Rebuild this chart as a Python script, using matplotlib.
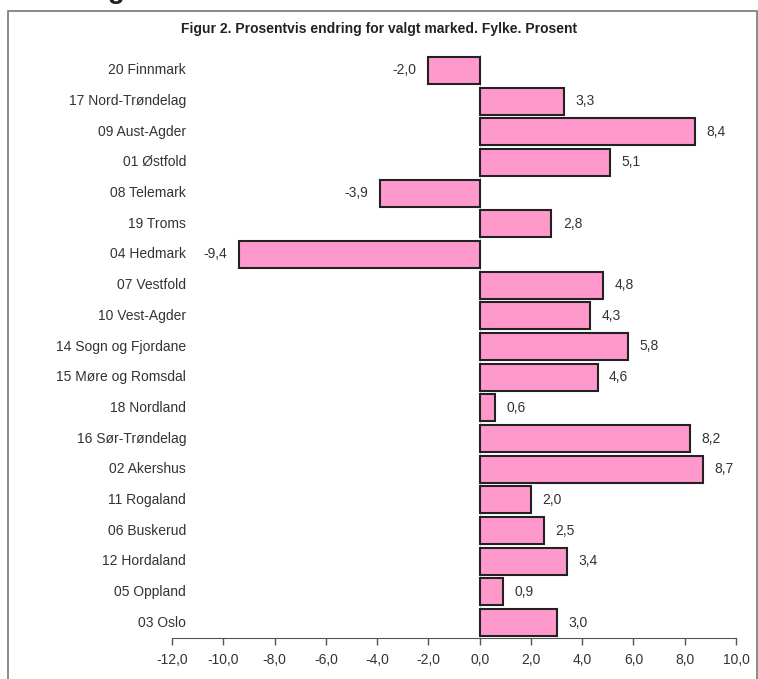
import matplotlib.pyplot as plt
from matplotlib.patches import Rectangle
from matplotlib.transforms import blended_transform_factory

plt.rcParams['font.family'] = ['Liberation Sans', 'DejaVu Sans']

fylker = ["20 Finnmark", "17 Nord-Trøndelag", "09 Aust-Agder", "01 Østfold",
          "08 Telemark", "19 Troms", "04 Hedmark", "07 Vestfold", "10 Vest-Agder",
          "14 Sogn og Fjordane", "15 Møre og Romsdal", "18 Nordland",
          "16 Sør-Trøndelag", "02 Akershus", "11 Rogaland", "06 Buskerud",
          "12 Hordaland", "05 Oppland", "03 Oslo"]
endring = [-2.0, 3.3, 8.4, 5.1, -3.9, 2.8, -9.4, 4.8, 4.3, 5.8, 4.6, 0.6,
           8.2, 8.7, 2.0, 2.5, 3.4, 0.9, 3.0]
x_ticks = [-12, -10, -8, -6, -4, -2, 0, 2, 4, 6, 8, 10]


def komma(v):
    return "{:.1f}".format(v).replace(".", ",")


fig = plt.figure(figsize=(7.58, 6.79), dpi=100)

# frame around the chart (document crop)
fig.patches.append(Rectangle((8 / 758, -0.05), 749 / 758, 1.05 - 11 / 679,
                             transform=fig.transFigure, fill=False,
                             edgecolor='#777777', linewidth=1.2))
# heading of the page above, only its descenders are inside the crop
fig.text(125 / 758, 1 + 2 / 679, "Endring", fontsize=20, fontweight='bold',
         ha='right', va='baseline', color='#222222')
fig.text(0.5, 1 - 29 / 679, "Figur 2. Prosentvis endring for valgt marked. Fylke. Prosent",
         fontsize=10, fontweight='bold', ha='center', va='center', color='#222222')

ax = fig.add_axes([172 / 758, 1 - 638 / 679, (736 - 172) / 758, (638 - 55) / 679])
pos = list(range(len(fylker)))[::-1]
ax.barh(pos, endring, height=0.88, color='#ff99cc', edgecolor='#222222', linewidth=1.5)

ax.set_xlim(-12, 10)
ax.set_ylim(-0.5, len(fylker) - 0.5)
ax.set_xticks(x_ticks)
ax.set_xticklabels([komma(t) for t in x_ticks], fontsize=10, color='#333333')
ax.tick_params(axis='x', direction='out', length=5, width=1, color='#555555', pad=6)
ax.set_yticks([])
for s in ['top', 'right', 'left']:
    ax.spines[s].set_visible(False)
ax.spines['bottom'].set_color('#555555')
ax.axvline(0, color='#cccccc', linewidth=0.8, zorder=0)

trans = blended_transform_factory(ax.transAxes, ax.transData)
for p, navn, v in zip(pos, fylker, endring):
    ax.text(0.025, p, navn, transform=trans, ha='right', va='center',
            fontsize=10, color='#333333')
    if v >= 0:
        ax.text(v + 0.45, p, komma(v), ha='left', va='center', fontsize=10, color='#333333')
    else:
        ax.text(v - 0.45, p, komma(v), ha='right', va='center', fontsize=10, color='#333333')

fig.savefig("out.png", dpi=100)
